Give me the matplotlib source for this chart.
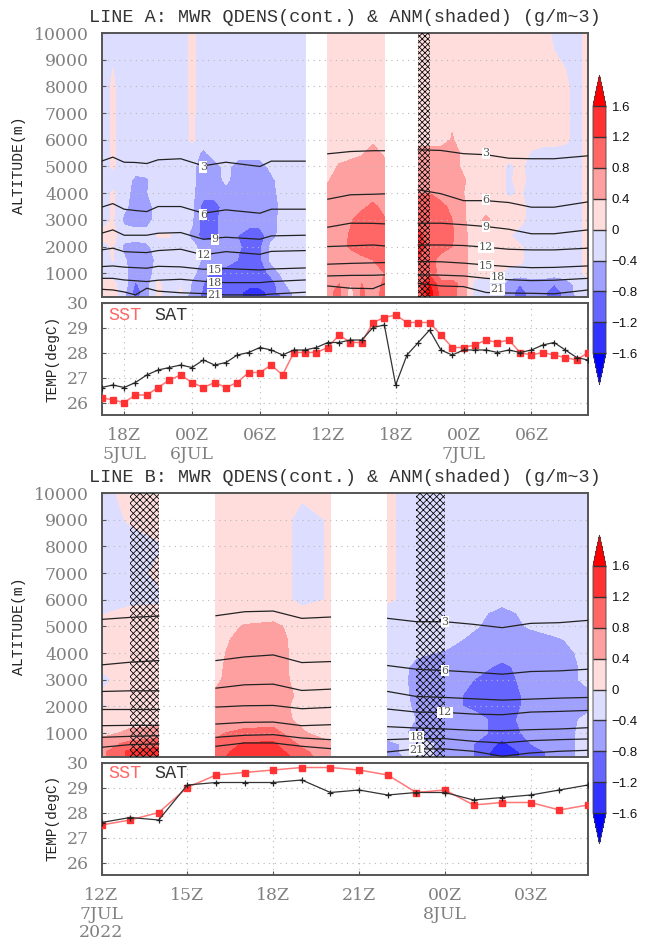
import numpy as np
import matplotlib
matplotlib.use("Agg")
import matplotlib.pyplot as plt
from matplotlib.ticker import FixedLocator, FixedFormatter

W, H = 649, 942
SHADE_LEVELS = [-1.6, -1.2, -0.8, -0.4, 0, 0.4, 0.8, 1.2, 1.6]
SHADE_COLORS = ['#3333ff', '#6666ff', '#a0a0ff', '#dddeff', '#ffdddd', '#ffa0a0', '#ff6666', '#ff3333']
UNDER, OVER = '#0000ff', '#ff0000'
ISO_VALUES = [3, 6, 9, 12, 15, 18, 21]

# ---------- LINE A shading (tenths of g/m^3), rows top to bottom ----------
ALT_A = [10000, 8000, 6000, 5500, 5000, 4500, 4000, 3500, 3000, 2400, 2000, 1500, 1000, 600, 300, 100]
HOURS_A1 = list(range(-2, 17))
SHADE_A1 = [
    [-2, -1, -2, -2, -2, -2, -2, -2, 1, -2, -2, -2, -2, -2, -2, -2, -2, -2, -2],
    [-2, .5, -2, -2, -2, -2, -2, -2, 1, -2, -2, -2, -2, -2, -2, -2, -2, -2, -2],
    [-2, .5, -2, -2, -2, -2, -2, -2, .5, -2, -2, -2, -2, -2, -2, -2, -2, -2, -2],
    [-2, .5, -2, -2, -2, -2, -2, -2, -2, -5, -2, -2, -2, -2, -2, -2, -2, -2, -2],
    [-2, .5, -2, -2, -2, -2, -2, -2, -3, -6, -6, -2.5, -6, -6, -6, -3, -2, -2, -2],
    [-2, -2, -2, -5, -4.5, -2, -2, -2, -3, -6, -6, -3, -6, -6, -6, -5, -2, -2, -2],
    [-2, .5, -2, -6, -4.2, -2, -2, -2, -3.5, -6, -6, -6, -6, -6, -6, -6, -2, -2, -2],
    [-2, .5, -3, -6, -6, -2, -2, -2, -3, -10, -10, -6, -6, -6, -6, -6, -3, -2, -2],
    [-2, .5, -5, -6, -6, -2, -2, -2, -3.5, -10, -9, -6, -6, -6, -6, -6, -2.5, -2, -2],
    [1, 1, -2, -2, -2, .3, .3, -2, -5, -10, -9, -6, -8, -10, -10, -5.5, -2.5, -2, -2],
    [-2, .5, -5, -6, -5, -2, -2, -2, -2.5, -6, -6, -6, -7, -10, -9, -3, -2, -2, -2],
    [-2, .3, -3.5, -6, -6, -3, -2, -2, -2.5, -4.5, -6, -6, -8, -10, -9, -3, -2, -2, -2],
    [-2, -2, -3, -6, -6, -2, -2, -2, -3, -6, -10, -10, -10, -10, -10, -7, -3, -2, -2],
    [2, 1, -2, -8.5, -6, 1, -2, 0, -4.5, -8, -10, -10, -10, -10, -10, -10, -5, -2, -2],
    [2, 2, -3, -10, -6, 1, -2, .2, -5, -8.5, -10, -10, -10, -14, -14, -10, -6, -3.5, -2],
    [2, 2, -3, -9, -6, 1, -2, -2, -6, -9, -10, -10, -10, -15, -15, -10, -8, -4, -2],
]
HOURS_A2 = [18, 19, 20, 21, 22, 23]
SHADE_A2 = [
    [2, 2, 2, 2, 2, 2],
    [2, 2, 2, 2, 2, 2],
    [2, 2, 2, 2, 3, 2],
    [2, 2, 2, 3.5, 6, 3],
    [2, 4.5, 6, 6, 6, 6],
    [3.5, 6, 6, 6, 6, 6],
    [6, 6, 6, 6, 6, 6],
    [6, 6, 6, 7, 9, 6.5],
    [6, 6, 7.5, 10, 10, 8.5],
    [6, 6, 8.5, 9.5, 10, 10],
    [6, 6.5, 8.5, 10, 10, 10],
    [5, 6, 6, 7, 8, 10],
    [6, 6, 6, 6, 6, 8],
    [7, 8, 4, 8, 5, 9],
    [7, 9, 2, 9, 5, 10],
    [7, 9, 2, 9, 5, 10],
]
HOURS_A3 = list(range(26, 42))
SHADE_A3 = [
    [2, 2, 2, 2, 2, 2, 2, 2, 2, 2, 2, 2, -1, -2, -2, 2],
    [2, 2, 2, 2, 2, 2, 2, 2, 2, 2, 2, 2, 2, 1, -2, 2],
    [2, 2, 2, 4.3, 2, 2, 2, 2, 2, 2, 2, 2, 2, 1, -2, 2],
    [6, 6, 6, 6, 3, 2, 2, 2, 2, 2, -.5, -2, -2, -2, -2, 2],
    [6, 6, 6, 6, 3, 2, 2, 2, -1, 1, -2, -2, -2, -2, -2, 2],
    [6, 6, 6, 6, 4.5, 2, 2, 2, -1, 2, -2, -2, -2, -2, -2, 2],
    [8, 8, 6.5, 6, 4, 2, 2, 2, -1, .5, -2, -2, -2, -2, -2, 2],
    [8.5, 9, 9, 7, 4.5, 2, 2, 2, 2, 2, -2, -2, -2, -2, -2, 2],
    [10, 10, 10, 8, 4.5, 2, 5, 2, 2, 1.5, -2, -2, -2, -2, -2, 2],
    [13, 10, 9, 8.5, 5, 2, 2, 2, .5, -2, -2, -2, -2, -2, -2, 2],
    [14, 10, 9, 8, 5, 2, 2, 2, 1, .5, -2, -2, -2, -2, -2, 2],
    [12, 9, 7, 6.5, 5, 2, 2, 2, 2, 1, -2, -2, -2, -2, -2, 2],
    [9, 11, 6, 6, 5, 2, 2, 1, -2, -2, -2, -2, -2, -2, -2, 2],
    [10, 16, 9, 9, 7, -2, -2, -2, -6, -8, -6, -6, -8, -6, -3, -2],
    [10, 18, 10, 9, 6, -2, -4, -2, -6, -10, -6, -7, -10, -7, -3, -2],
    [10, 18, 10, 9, 6, -2, -4, -2, -6, -10, -7, -7, -10, -7, -4, -2],
]

# ---------- LINE A isolines: altitude (m) of each QDENS value ----------
ISO_HOURS_A1 = [-2, -1, 0, 1, 2, 3, 5, 7, 9, 12, 13, 16]
ISO_A1 = [
    [5200, 5350, 5160, 5150, 5110, 5250, 5290, 5025, 5160, 5000, 5200, 5200],
    [3475, 3610, 3400, 3350, 3310, 3500, 3500, 3250, 3375, 3250, 3400, 3400],
    [2500, 2625, 2425, 2425, 2425, 2500, 2525, 2275, 2350, 2275, 2400, 2425],
    [1875, 1940, 1810, 1790, 1775, 1850, 1900, 1690, 1810, 1710, 1820, 1850],
    [1250, 1275, 1230, 1210, 1190, 1260, 1240, 1150, 1175, 1125, 1160, 1200],
    [810, 810, 750, 720, 690, 740, 775, 700, 650, 650, 690, 750],
    [400, 375, 300, 190, 440, 330, 270, 240, 190, 190, 220, 290],
]
ISO_HOURS_A2 = [18, 20, 22, 23]
ISO_A2 = [
    [5475, 5560, 5590, 5590],
    [3775, 3940, 3960, 3975],
    [2725, 2875, 2870, 2850],
    [2000, 2030, 2060, 2025],
    [1340, 1370, 1390, 1400],
    [900, 920, 925, 940],
    [525, 440, 425, 600],
]
ISO_HOURS_A3 = [26, 28, 30, 32, 34, 36, 38, 41]
ISO_A3 = [
    [5625, 5600, 5480, 5440, 5310, 5290, 5290, 5400],
    [4125, 3980, 3720, 3720, 3650, 3475, 3475, 3675],
    [2875, 2875, 2820, 2750, 2650, 2480, 2480, 2625],
    [2060, 2060, 2040, 1975, 1900, 1875, 1875, 1940],
    [1440, 1430, 1380, 1310, 1250, 1210, 1220, 1275],
    [940, 930, 900, 810, 760, 725, 740, 810],
    [625, 525, 500, 280, 260, 250, 230, 375],
]
LABELS_A = [('3', 7, 4980), ('6', 7, 3200), ('9', 8, 2275), ('12', 7, 1690), ('15', 8, 1125),
            ('18', 8, 650), ('21', 8, 190), ('3', 32, 5500), ('6', 32, 3750), ('9', 32, 2750),
            ('12', 32, 1975), ('15', 32, 1290), ('18', 33, 850), ('21', 33, 400)]

# ---------- LINE A temperatures ----------
HOURS_TA = list(range(-2, 42))
SST_A = [26.2, 26.1, 26.0, 26.3, 26.3, 26.6, 26.9, 27.1, 26.8, 26.6, 26.8, 26.6, 26.8, 27.2, 27.2, 27.5,
         27.1, 28.0, 28.0, 28.0, 28.2, 28.7, 28.4, 28.4, 29.2, 29.4, 29.5, 29.2, 29.2, 29.2, 28.7, 28.2,
         28.2, 28.3, 28.5, 28.4, 28.5, 28.0, 27.9, 28.0, 27.9, 27.8, 27.7, 28.0]
SAT_A = [26.6, 26.7, 26.6, 26.8, 27.1, 27.3, 27.4, 27.5, 27.4, 27.7, 27.5, 27.6, 27.9, 28.0, 28.2, 28.1,
         27.9, 28.1, 28.1, 28.2, 28.4, 28.4, 28.5, 28.5, 29.0, 29.1, 26.7, 27.9, 28.4, 28.9, 28.1, 27.9,
         28.1, 28.1, 28.1, 28.0, 28.1, 28.0, 28.1, 28.3, 28.4, 28.1, 27.8, 27.7]
TICKS_A = [0, 6, 12, 18, 24, 30, 36]
TICKLABELS_A = ['18Z\n5JUL', '00Z\n6JUL', '06Z', '12Z', '18Z', '00Z\n7JUL', '06Z']
XLIM_A = (-2, 41)
HATCH_A = [(26, 27)]

# ---------- LINE B shading ----------
ALT_B = [10000, 9000, 8000, 7000, 6000, 5500, 5000, 4500, 4000, 3500, 3000, 2400, 2000, 1500, 1000, 600, 300, 100]
HOURS_B1 = [12, 13, 14]
SHADE_B1 = [
    [-2, 2, 2],
    [-2, .5, 2],
    [-2, -2, -.5],
    [-2, -2, 1],
    [-2, -2, -1],
    [-.5, 2, 2],
    [2, 2, 2],
    [2, 2, 2],
    [2, 2, 2],
    [.5, 2, 2],
    [-1, 2, 2],
    [.4, 2, 2],
    [-.5, 2, 2],
    [2, 2, 2],
    [2.5, 5, 6],
    [6, 9, 10],
    [7, 13, 14],
    [7, 13, 14],
]
HOURS_B2 = [16, 17, 18, 19, 20]
SHADE_B2 = [
    [2, 2, 2, 1, .5],
    [2, 2, 3.5, -2, .5],
    [2, 2, 3.5, -2, .5],
    [2, 2, 3.5, -2, .5],
    [2, 2, 3.5, -2, .5],
    [2, 2, 2, 2, 2],
    [2, 4.3, 5, 2, 2],
    [2, 6, 6, 2, 2],
    [3, 6, 6, 2.2, 2],
    [3.3, 6, 6, 2.3, 2],
    [3.5, 6, 6, 2.4, 2],
    [4.5, 6, 6, 3.2, 2],
    [6, 6, 6, 2.5, 2],
    [6, 6, 6, 3, 2],
    [7.5, 9, 9.5, 4.5, 2],
    [8.5, 12.5, 12.5, 7, 4.5],
    [9, 15, 14, 9, 5],
    [10, 16, 15, 10, 5],
]
HOURS_B3 = [22, 23, 24, 25, 26, 27, 28, 29]
SHADE_B3 = [
    [.7, -2, -2, -2, -2, -2, -2, -2],
    [.7, -2, -2, -2, -2, -2, -2, -2],
    [.7, -2, -2, -2, -2, -2, -2, -2],
    [.7, -2, -2, -2, -2, -2, -2, -2],
    [.7, -2, -2, -2, -2, -2, -2, -2],
    [-2, -2, -2, -2, -6, -2, -2, -2],
    [-2, -2, -2, -3.5, -6, -3.5, -2, -2],
    [-2, -2, -2.5, -5, -6, -6, -4.4, -2],
    [-2, -3.5, -4.4, -6, -6, -6, -6, -2.3],
    [-2, -4.7, -6, -6, -9, -6, -6, -3],
    [-2, -4.9, -6, -8, -10, -6, -6, -3],
    [-2, -4.7, -6.5, -9, -10, -7, -6, -5],
    [-2, -4.5, -6.5, -9, -10, -7, -6, -5],
    [-2, -4.1, -6, -6, -10, -6, -6, -3],
    [-2, -5, -6, -6, -10, -7, -6, -2.5],
    [-5, -2.5, -5, -8, -13, -8, -6, -2.5],
    [-5, -2.5, -5, -8, -15, -10, -6, -2.5],
    [-6, -2.5, -5, -8, -15, -10, -6, -2.5],
]

# ---------- LINE B isolines ----------
ISO_B1 = [
    [5260, 5335, 5385],
    [3554, 3654, 3716],
    [2557, 2582, 2582],
    [1910, 1910, 1910],
    [1274, 1287, 1287],
    [838, 875, 900],
    [464, 564, 589],
]
ISO_B2 = [
    [5398, 5548, 5573, 5299, 5349],
    [3716, 3853, 3928, 3641, 3679],
    [2682, 2807, 2832, 2595, 2645],
    [1972, 2022, 2034, 1910, 1960],
    [1336, 1399, 1411, 1274, 1311],
    [838, 913, 938, 813, 751],
    [502, 626, 626, 502, 414],
]
ISO_B3 = [
    [5299, 5174, 5174, 5074, 4950, 5112, 5137, 5224],
    [3529, 3392, 3342, 3280, 3205, 3305, 3330, 3392],
    [2557, 2370, 2333, 2283, 2234, 2271, 2308, 2333],
    [1897, 1785, 1772, 1710, 1685, 1785, 1810, 1847],
    [1237, 1187, 1150, 1100, 1087, 1125, 1150, 1199],
    [751, 788, 788, 688, 626, 713, 751, 776],
    [290, 402, 402, 315, 128, 252, 315, 352],
]
LABELS_B = [('3', 24, 5174), ('6', 24, 3342), ('12', 24, 1772), ('18', 23, 860), ('21', 23, 370)]

# ---------- LINE B temperatures ----------
HOURS_TB = list(range(12, 30))
SST_B = [27.5, 27.7, 28.0, 29.0, 29.5, 29.6, 29.7, 29.8, 29.8, 29.7, 29.5, 28.8, 28.9, 28.3, 28.4, 28.4, 28.1, 28.3]
SAT_B = [27.6, 27.8, 27.7, 29.1, 29.2, 29.2, 29.2, 29.3, 28.8, 28.9, 28.7, 28.8, 28.8, 28.5, 28.6, 28.7, 28.9, 29.1]
TICKS_B = [12, 15, 18, 21, 24, 27]
TICKLABELS_B = ['12Z\n7JUL\n2022', '15Z', '18Z', '21Z', '00Z\n8JUL', '03Z']
XLIM_B = (12, 29)
HATCH_B = [(13, 14), (23, 24)]

ALT_TICKS = list(range(1000, 10001, 1000))
TEMP_TICKS = [26, 27, 28, 29, 30]

TITLES = ['LINE A: MWR QDENS(cont.) & ANM(shaded) (g/m~3)', 'LINE B: MWR QDENS(cont.) & ANM(shaded) (g/m~3)']

FRAME = '#555555'
GRAY = '#808080'
NUMFONT = 'DejaVu Serif'
MONO = 'Liberation Mono'


def px_axes(fig, l, t, r, b):
    return fig.add_axes([l / W, 1 - b / H, (r - l) / W, (b - t) / H])


def style(ax):
    for s in ax.spines.values():
        s.set_color(FRAME)
        s.set_linewidth(1.4)


plt.rcParams['hatch.linewidth'] = 0.55
fig = plt.figure(figsize=(W / 100, H / 100), dpi=100)


def draw_shade(ax, xlim, alts, segments, iso_segments, labels, hatches, hatch):
    cs = None
    for hours, table in segments:
        vals = np.array(table, dtype=float) / 10
        cs = ax.contourf(hours, alts, vals, levels=SHADE_LEVELS, colors=SHADE_COLORS, extend='both', zorder=1)
        cs.cmap.set_under(UNDER)
        cs.cmap.set_over(OVER)
        cs.changed()
    for hs in hatches:
        ax.axvspan(hs[0], hs[1], facecolor='none', edgecolor='black', hatch=hatch, lw=0, zorder=3)
    for hours, table in iso_segments:
        for row in table:
            ax.plot(hours, row, color='#222222', lw=0.9, zorder=4)
    for txt, hx, alt in labels:
        ax.text(hx, alt, txt, ha='center', va='center', fontsize=8, family=NUMFONT, color='#555555', zorder=5,
                bbox=dict(facecolor='white', edgecolor='none', pad=0.4))
    ax.set_xlim(*xlim)
    ax.set_ylim(100, 10000)
    ax.yaxis.set_major_locator(FixedLocator(ALT_TICKS))
    ax.set_xticks([])
    ax.grid(axis='y', color='#b8b8b8', lw=0.8, ls=(0, (1, 4)))
    ax.tick_params(axis='y', direction='in', length=3, color=FRAME, pad=9, labelsize=12.4, labelcolor=GRAY)
    for lab in ax.get_yticklabels():
        lab.set_family(NUMFONT)
    style(ax)
    return cs


def draw_temp(ax, xlim, hours, sst, sat, ticks, ticklabels):
    ax.plot(hours, sst, color='#ff7777', lw=1.1, marker='s', ms=4.2, mfc='#ff3333', mec='#ff3333', zorder=3)
    ax.plot(hours, sat, color='#333333', lw=0.9, marker='+', ms=5, mew=0.9, mec='#222222', zorder=4)
    ax.set_xlim(*xlim)
    ax.set_ylim(25.5, 30)
    ax.set_yticks(TEMP_TICKS)
    ax.xaxis.set_major_locator(FixedLocator(ticks))
    ax.xaxis.set_major_formatter(FixedFormatter(ticklabels))
    ax.grid(True, color='#b8b8b8', lw=0.8, ls=(0, (1, 4)))
    ax.tick_params(axis='both', direction='in', length=3, color=FRAME, labelsize=12.4, labelcolor=GRAY)
    ax.tick_params(axis='y', pad=9)
    ax.tick_params(axis='x', pad=9)
    for lab in ax.get_yticklabels():
        lab.set_family(NUMFONT)
    for lab in ax.get_xticklabels():
        lab.set_family(NUMFONT)
        lab.set_linespacing(1.1)
    style(ax)


def draw_cbar(cs, top, bottom):
    cax = px_axes(fig, 593, top, 606, bottom)
    cb = fig.colorbar(cs, cax=cax, extend='both', extendfrac=0.1255, drawedges=True, spacing='uniform')
    cb.set_ticks(SHADE_LEVELS)
    cb.set_ticklabels(['\u22121.6', '\u22121.2', '\u22120.8', '\u22120.4', '0', '0.4', '0.8', '1.2', '1.6'])
    cax.tick_params(length=0, pad=4, labelsize=9.5, labelcolor='#111111')
    for lab in cax.get_yticklabels():
        lab.set_family('Liberation Sans')
    cb.dividers.set_color('#333333')
    cb.dividers.set_linewidth(1.0)
    cb.outline.set_edgecolor('#444444')
    cb.outline.set_linewidth(0.6)


# Panel A
ax_a = px_axes(fig, 101.5, 33, 588, 297.3)
cs_a = draw_shade(ax_a, XLIM_A, ALT_A,
                  [(HOURS_A1, SHADE_A1), (HOURS_A2, SHADE_A2), (HOURS_A3, SHADE_A3)],
                  [(ISO_HOURS_A1, ISO_A1), (ISO_HOURS_A2, ISO_A2), (ISO_HOURS_A3, ISO_A3)],
                  LABELS_A, HATCH_A, 'x' * 6)
ax_ta = px_axes(fig, 101.5, 302.5, 588, 415)
draw_temp(ax_ta, XLIM_A, HOURS_TA, SST_A, SAT_A, TICKS_A, TICKLABELS_A)

# Panel B
ax_b = px_axes(fig, 101.5, 493, 588, 757)
cs_b = draw_shade(ax_b, XLIM_B, ALT_B,
                  [(HOURS_B1, SHADE_B1), (HOURS_B2, SHADE_B2), (HOURS_B3, SHADE_B3)],
                  [(HOURS_B1, ISO_B1), (HOURS_B2, ISO_B2), (HOURS_B3, ISO_B3)],
                  LABELS_B, HATCH_B, 'x' * 5)
ax_tb = px_axes(fig, 101.5, 762.5, 588, 875)
draw_temp(ax_tb, XLIM_B, HOURS_TB, SST_B, SAT_B, TICKS_B, TICKLABELS_B)

draw_cbar(cs_a, 75, 384.3)
draw_cbar(cs_b, 535, 844)

for title, y in zip(TITLES, [17, 478]):
    fig.text(344.8 / W, 1 - y / H, title, ha='center', va='center', family=MONO, fontsize=13.35, color='#333333')
for y in [315, 774]:
    fig.text(108 / W, 1 - y / H, 'SST', ha='left', va='center', family=MONO, fontsize=13.35, color='#ff6666')
    fig.text(154 / W, 1 - y / H, 'SAT', ha='left', va='center', family=MONO, fontsize=13.35, color='#333333')
for yc in [165, 626]:
    fig.text(19 / W, 1 - yc / H, 'ALTITUDE(m)', rotation=90, ha='center', va='center', family=MONO,
             fontsize=10.6, color='#222222')
for yc in [359, 818]:
    fig.text(53 / W, 1 - yc / H, 'TEMP(degC)', rotation=90, ha='center', va='center', family=MONO,
             fontsize=10.4, color='#222222')

fig.savefig('out.png', dpi=100)
